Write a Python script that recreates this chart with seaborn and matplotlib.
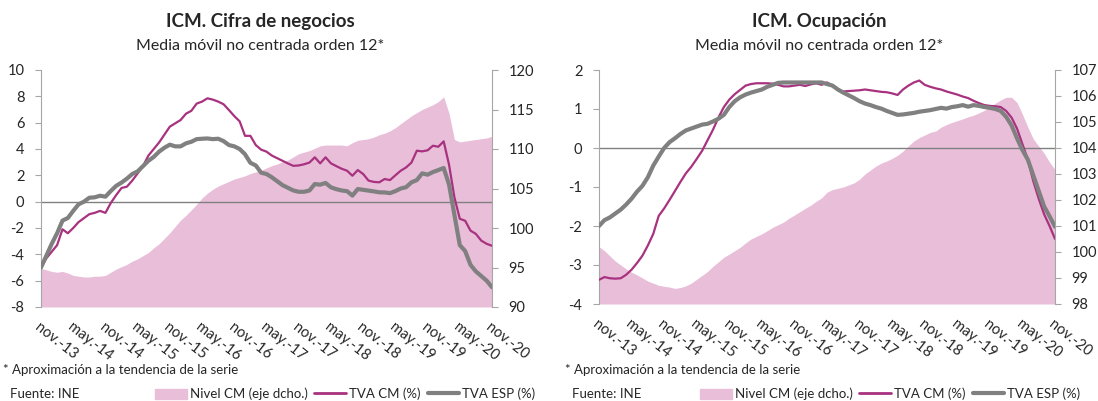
import numpy as np
import pandas as pd
import matplotlib.pyplot as plt
import seaborn as sns
from matplotlib.patches import Patch
from matplotlib.lines import Line2D

# =====================================================================
# Datos (media móvil 12 meses, nov-13 .. nov-20)
# =====================================================================
tick_labels = ['nov.-13', 'may.-14', 'nov.-14', 'may.-15', 'nov.-15', 'may.-16',
               'nov.-16', 'may.-17', 'nov.-17', 'may.-18', 'nov.-18', 'may.-19',
               'nov.-19', 'may.-20', 'nov.-20']

# --- Cifra de negocios ---
cifra_tva_cm = [-5.0, -4.3, -3.8, -3.3, -2.1, -2.4, -2.0, -1.55, -1.25, -0.95,
                -0.85, -0.7, -0.85, -0.1, 0.5, 1.04, 1.14, 1.6, 2.15, 2.7,
                3.5, 4.0, 4.5, 5.1, 5.7, 5.95, 6.2, 6.68, 6.9, 7.45,
                7.6, 7.85, 7.75, 7.6, 7.4, 6.96, 6.5, 6.1, 5.0, 5.0,
                4.3, 3.95, 3.8, 3.5, 3.3, 3.1, 2.9, 2.72, 2.75, 2.84,
                2.97, 3.37, 2.91, 3.37, 2.91, 2.7, 2.5, 2.35, 1.97, 2.4,
                2.1, 1.6, 1.5, 1.47, 1.72, 1.64, 2.0, 2.35, 2.6, 2.97,
                3.87, 3.82, 3.9, 4.25, 4.17, 4.58, 2.8, 0.33, -1.3, -1.45,
                -2.2, -2.45, -2.96, -3.2, -3.35]
cifra_tva_esp = [-5.0, -4.1, -3.2, -2.4, -1.44, -1.24, -0.7, -0.2, 0.0, 0.3,
                 0.33, 0.45, 0.38, 0.81, 1.2, 1.45, 1.75, 2.1, 2.3, 2.7,
                 3.1, 3.4, 3.8, 4.1, 4.33, 4.2, 4.2, 4.43, 4.55, 4.75,
                 4.78, 4.8, 4.75, 4.78, 4.6, 4.3, 4.2, 4.0, 3.6, 2.95,
                 2.75, 2.2, 2.1, 1.85, 1.55, 1.25, 1.05, 0.85, 0.75, 0.75,
                 0.85, 1.34, 1.29, 1.42, 1.09, 0.95, 0.85, 0.8, 0.46, 0.96,
                 0.9, 0.84, 0.78, 0.71, 0.7, 0.65, 0.8, 1.0, 1.1, 1.47,
                 1.64, 2.15, 2.05, 2.25, 2.4, 2.56, 1.3, -1.0, -3.3, -3.75,
                 -4.8, -5.3, -5.65, -6.0, -6.5]
cifra_nivel = [94.9, 94.7, 94.5, 94.4, 94.5, 94.3, 94.0, 93.9, 93.8, 93.8,
               93.9, 93.9, 94.0, 94.4, 94.8, 95.1, 95.4, 95.8, 96.1, 96.5,
               96.9, 97.5, 98.0, 98.7, 99.4, 100.2, 101.0, 101.6, 102.3, 103.0,
               103.8, 104.4, 104.9, 105.3, 105.6, 105.9, 106.2, 106.4, 106.6, 106.9,
               107.1, 107.3, 107.6, 107.9, 108.1, 108.4, 108.6, 109.0, 109.4, 109.6,
               109.8, 110.1, 110.4, 110.5, 110.5, 110.5, 110.5, 110.4, 110.8, 111.1,
               111.2, 111.3, 111.5, 111.8, 112.0, 112.3, 112.7, 113.2, 113.7, 114.2,
               114.6, 115.0, 115.3, 115.6, 116.0, 116.6, 114.5, 111.2, 110.9, 111.0,
               111.1, 111.2, 111.3, 111.4, 111.6]

# --- Ocupación ---
ocup_tva_cm = [-3.38, -3.31, -3.34, -3.35, -3.34, -3.25, -3.12, -2.95, -2.76, -2.5,
               -2.2, -1.74, -1.55, -1.33, -1.1, -0.87, -0.65, -0.48, -0.28, -0.07,
               0.2, 0.47, 0.78, 1.05, 1.24, 1.38, 1.49, 1.6, 1.64, 1.66,
               1.66, 1.66, 1.65, 1.62, 1.58, 1.58, 1.6, 1.62, 1.59, 1.63,
               1.66, 1.62, 1.68, 1.6, 1.5, 1.45, 1.46, 1.47, 1.48, 1.5,
               1.48, 1.46, 1.44, 1.43, 1.4, 1.36, 1.5, 1.6, 1.68, 1.73,
               1.62, 1.57, 1.53, 1.5, 1.45, 1.41, 1.37, 1.32, 1.28, 1.21,
               1.15, 1.1, 1.08, 1.07, 1.05, 0.95, 0.78, 0.5, 0.1, -0.3,
               -0.85, -1.3, -1.7, -2.0, -2.33]
ocup_tva_esp = [-2.0, -1.85, -1.78, -1.68, -1.58, -1.45, -1.3, -1.12, -0.97, -0.75,
                -0.45, -0.22, 0.0, 0.15, 0.25, 0.36, 0.45, 0.5, 0.55, 0.6,
                0.62, 0.68, 0.75, 0.85, 1.05, 1.2, 1.3, 1.37, 1.42, 1.46,
                1.5, 1.57, 1.62, 1.67, 1.68, 1.68, 1.68, 1.68, 1.68, 1.68,
                1.68, 1.68, 1.64, 1.6, 1.5, 1.42, 1.35, 1.28, 1.2, 1.14,
                1.1, 1.05, 1.01, 0.95, 0.9, 0.85, 0.86, 0.88, 0.9, 0.93,
                0.95, 0.97, 1.0, 1.03, 1.01, 1.05, 1.07, 1.1, 1.06, 1.1,
                1.08, 1.05, 1.03, 1.0, 0.95, 0.8, 0.58, 0.25, -0.05, -0.3,
                -0.7, -1.1, -1.5, -1.75, -2.02]
ocup_nivel = [100.2, 100.05, 99.85, 99.65, 99.5, 99.35, 99.22, 99.12, 99.0, 98.88,
              98.8, 98.72, 98.68, 98.65, 98.6, 98.63, 98.7, 98.8, 98.95, 99.1,
              99.25, 99.45, 99.62, 99.8, 99.92, 100.05, 100.18, 100.35, 100.5, 100.6,
              100.7, 100.82, 100.95, 101.05, 101.15, 101.3, 101.42, 101.55, 101.68, 101.8,
              101.95, 102.08, 102.3, 102.4, 102.45, 102.5, 102.58, 102.66, 102.8, 103.0,
              103.15, 103.3, 103.42, 103.5, 103.6, 103.72, 103.88, 104.08, 104.27, 104.4,
              104.5, 104.6, 104.65, 104.8, 104.9, 104.98, 105.05, 105.12, 105.2, 105.26,
              105.35, 105.45, 105.58, 105.72, 105.85, 105.95, 105.95, 105.75, 105.3, 104.8,
              104.35, 104.07, 103.8, 103.45, 103.17]

PINK = '#E8BED9'
MAGENTA = '#A8327F'
GRAY = '#808080'
AXIS_GRAY = '#A6A6A6'

sns.set_style('white')
plt.rcParams['font.family'] = ['Lato', 'DejaVu Sans']

W, H = 1098, 401


def draw_panel(fig, rect, title_x, title, tva_cm, tva_esp, nivel,
               ylim_l, yticks_l, ylim_r, yticks_r):
    df = pd.DataFrame({'mes': np.arange(len(tva_cm)), 'cm': tva_cm,
                       'esp': tva_esp, 'nivel': nivel})
    ax = fig.add_axes(rect)
    ax2 = ax.twinx()

    # area (eje derecho) detras de las lineas
    ax2.fill_between(df['mes'], ylim_r[0], df['nivel'], color=PINK, lw=0)
    ax.set_zorder(ax2.get_zorder() + 1)
    ax.patch.set_visible(False)

    ax.axhline(0, color=GRAY, lw=1.0, zorder=1)
    sns.lineplot(data=df, x='mes', y='cm', ax=ax, color=MAGENTA, lw=1.6, zorder=3)
    sns.lineplot(data=df, x='mes', y='esp', ax=ax, color=GRAY, lw=3.0, zorder=4)

    ax.set_xlim(0, len(tva_cm) - 1)
    ax.set_ylim(*ylim_l)
    ax.set_yticks(yticks_l)
    ax.set_yticklabels([f'{v:g}' for v in yticks_l])
    ax2.set_ylim(*ylim_r)
    ax2.set_yticks(yticks_r)

    ax.set_xticks(np.arange(0, len(tva_cm), 6))
    ax.set_xticklabels(tick_labels, rotation=-38, ha='left', va='top',
                       rotation_mode='anchor')
    ax.set_xlabel('')
    ax.set_ylabel('')

    for a in (ax, ax2):
        for s in a.spines.values():
            s.set_visible(False)
    ax.spines['left'].set_visible(True)
    ax.spines['left'].set_color(AXIS_GRAY)
    ax2.spines['right'].set_visible(True)
    ax2.spines['right'].set_color(AXIS_GRAY)
    ax.tick_params(axis='y', left=True, length=4, color=AXIS_GRAY, labelsize=10.5, pad=8)
    ax.tick_params(axis='x', bottom=False, labelsize=10.5, pad=6)
    ax2.tick_params(axis='y', right=True, length=4, color=AXIS_GRAY, labelsize=10.5, pad=8)

    fig.text(title_x / W, 1 - 22 / H, title, ha='center', va='center',
             fontsize=13.5, fontweight='bold')
    fig.text(title_x / W, 1 - 46 / H, 'Media móvil no centrada orden 12*', ha='center',
             va='center', fontsize=11.5)
    return ax


fig = plt.figure(figsize=(W / 100, H / 100), dpi=100)

draw_panel(fig, [41 / W, 1 - 307 / H, 451 / W, 237 / H], 260,
           'ICM. Cifra de negocios', cifra_tva_cm, cifra_tva_esp, cifra_nivel,
           (-8, 10), list(range(-8, 11, 2)), (90, 120), list(range(90, 121, 5)))
draw_panel(fig, [599 / W, 1 - 304 / H, 456 / W, 234 / H], 819,
           'ICM. Ocupación', ocup_tva_cm, ocup_tva_esp, ocup_nivel,
           (-4, 2), list(range(-4, 3)), (98, 107), list(range(98, 108)))

# notas y leyendas
handles = [Patch(color=PINK), Line2D([], [], color=MAGENTA, lw=2),
           Line2D([], [], color=GRAY, lw=3)]
labels = ['Nivel CM (eje dcho.)', 'TVA CM (%)', 'TVA ESP (%)']
for x_note, x_src, x_leg in [(3, 10, 155), (565, 572, 700)]:
    fig.text(x_note / W, 1 - 370 / H, '* Aproximación a la tendencia de la serie',
             ha='left', va='center', fontsize=9.5)
    fig.text(x_src / W, 1 - 394 / H, 'Fuente: INE', ha='left', va='center',
             fontsize=9.5)
    fig.legend(handles, labels, loc='center left',
               bbox_to_anchor=(x_leg / W, 1 - 394 / H), ncol=3, frameon=False,
               fontsize=9.5, handlelength=2.4, handleheight=0.8, handletextpad=0.25,
               columnspacing=0.5, borderpad=0, borderaxespad=0)

fig.savefig('out.png', dpi=100)
